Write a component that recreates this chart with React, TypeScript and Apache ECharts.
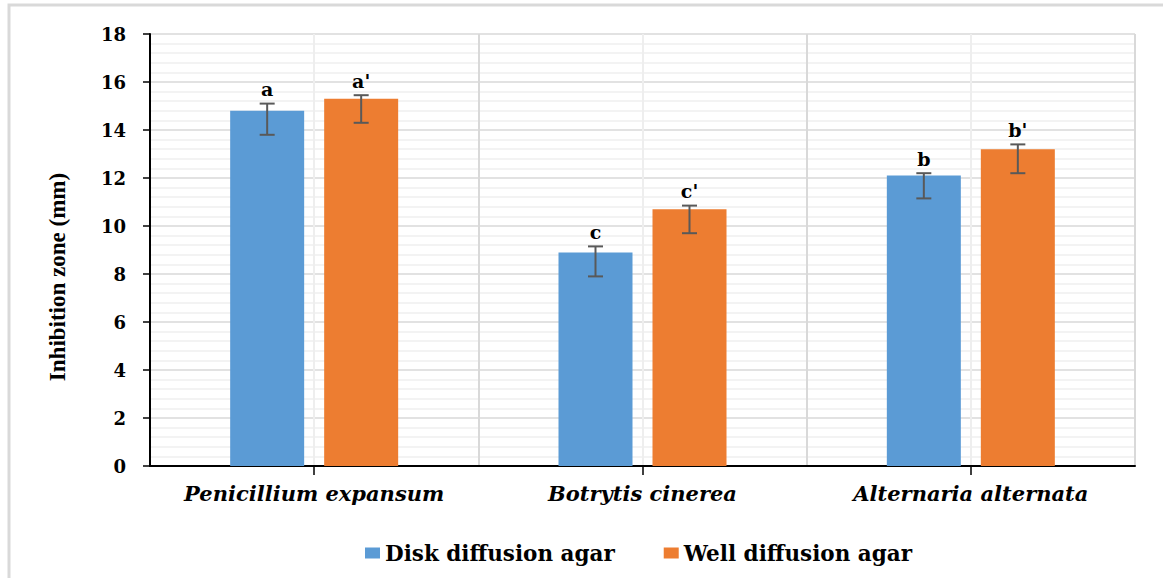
import { useEffect, useRef } from "react";
import * as echarts from "echarts";

const categories = ["Penicillium expansum", "Botrytis cinerea", "Alternaria alternata"];
const seriesNames = ["Disk diffusion agar", "Well diffusion agar"];
const diskValues = [14.8, 8.9, 12.1];
const wellValues = [15.3, 10.7, 13.2];
const diskErrHigh = [15.1, 9.15, 12.2];
const diskErrLow = [13.8, 7.9, 11.15];
const wellErrHigh = [15.45, 10.85, 13.4];
const wellErrLow = [14.3, 9.7, 12.2];
const diskLetters = ["a", "c", "b"];
const wellLetters = ["a'", "c'", "b'"];
const yMin = 0;
const yMax = 18;
const yInterval = 2;
const yTitle = "Inhibition zone (mm)";

const BLUE = "#5b9bd5";
const ORANGE = "#ed7d31";
const BAR_W = 74;
const BAR_GAP_PX = 20;
const SERIF_WIDE = '"DejaVu Serif", serif';

function makeErr(name: string, high: number[], low: number[], letters: string[], offset: number) {
  return {
    type: "custom",
    name,
    silent: true,
    z: 5,
    xAxisIndex: 1,
    data: categories.map((_, i) => [i, high[i], low[i]]),
    encode: { x: 0, y: [1, 2] },
    renderItem: (params: any, api: any) => {
      const i = api.value(0);
      const top = api.coord([i, api.value(1)]);
      const bot = api.coord([i, api.value(2)]);
      const x = top[0] + offset;
      const cap = 7.5;
      const style = { stroke: "#595959", lineWidth: 2 };
      return {
        type: "group",
        children: [
          { type: "line", shape: { x1: x, y1: top[1], x2: x, y2: bot[1] }, style },
          { type: "line", shape: { x1: x - cap, y1: top[1], x2: x + cap, y2: top[1] }, style },
          { type: "line", shape: { x1: x - cap, y1: bot[1], x2: x + cap, y2: bot[1] }, style },
          {
            type: "text",
            x,
            y: top[1] - 5,
            style: {
              text: letters[params.dataIndex],
              fill: "#000",
              font: `bold 19px ${SERIF_WIDE}`,
              textAlign: "center",
              textVerticalAlign: "bottom",
            },
          },
        ],
      };
    },
  };
}

export default function App() {
  const ref = useRef<HTMLDivElement>(null);
  useEffect(() => {
    if (!ref.current) return;
    const chart = echarts.init(ref.current, null, { renderer: "svg" });
    const half = (BAR_W + BAR_GAP_PX) / 2;
    chart.setOption({
      animation: false,
      backgroundColor: "#fff",
      grid: { left: 150, right: 28, top: 34, bottom: 112, containLabel: false },
      graphic: [
        {
          type: "rect",
          z: -10,
          silent: true,
          shape: { x: 9, y: 5, width: 1300, height: 700 },
          style: { fill: "none", stroke: "#d9d9d9", lineWidth: 3 },
        },
        {
          type: "text",
          x: 57,
          y: 277,
          rotation: Math.PI / 2,
          style: {
            text: yTitle,
            fill: "#000",
            font: 'bold 23px "Liberation Serif", serif',
            textAlign: "center",
            textVerticalAlign: "middle",
          },
        },
      ],
      legend: {
        data: seriesNames,
        left: 360,
        top: 537,
        icon: "rect",
        itemWidth: 15,
        itemHeight: 11,
        itemGap: 49,
        textStyle: { color: "#000", fontFamily: SERIF_WIDE, fontWeight: "bold", fontSize: 21.5 },
      },
      xAxis: [
        {
          // light half-category guide lines (category centres + boundaries)
          type: "value",
          position: "top",
          min: 0,
          max: categories.length * 2,
          interval: 1,
          show: true,
          axisLine: { show: false },
          axisTick: { show: false },
          axisLabel: { show: false },
          splitLine: { show: true, lineStyle: { color: "#eeeeee", width: 2 } },
        },
        {
          type: "category",
          position: "bottom",
          data: categories,
          axisLine: { show: true, onZero: false, lineStyle: { color: "#000", width: 2 } },
          axisTick: { show: true, alignWithLabel: true, length: 9, lineStyle: { color: "#000", width: 1.5 } },
          axisLabel: {
            color: "#000",
            fontFamily: SERIF_WIDE,
            fontStyle: "italic",
            fontWeight: "bold",
            fontSize: 21,
            margin: 17,
            interval: 0,
          },
          splitLine: { show: true, lineStyle: { color: "#d9d9d9", width: 2 } },
        },
      ],
      yAxis: {
        type: "value",
        min: yMin,
        max: yMax,
        interval: yInterval,
        axisLine: { show: true, lineStyle: { color: "#000", width: 2 } },
        axisTick: { show: true, length: 7, lineStyle: { color: "#000", width: 1.5 } },
        axisLabel: { color: "#000", fontFamily: SERIF_WIDE, fontWeight: "bold", fontSize: 18, margin: 24 },
        splitLine: { show: true, lineStyle: { color: "#d9d9d9", width: 1.5 } },
        minorTick: { show: false, splitNumber: 5 },
        minorSplitLine: { show: true, lineStyle: { color: "#efefef", width: 1.5 } },
      },
      series: [
        {
          type: "bar",
          name: seriesNames[0],
          xAxisIndex: 1,
          data: diskValues,
          barWidth: BAR_W,
          barGap: `${(BAR_GAP_PX / BAR_W) * 100}%`,
          itemStyle: { color: BLUE },
        },
        {
          type: "bar",
          name: seriesNames[1],
          xAxisIndex: 1,
          data: wellValues,
          barWidth: BAR_W,
          itemStyle: { color: ORANGE },
        },
        makeErr("disk-err", diskErrHigh, diskErrLow, diskLetters, -half),
        makeErr("well-err", wellErrHigh, wellErrLow, wellLetters, half),
      ],
    });
    return () => chart.dispose();
  }, []);
  return (
    <div
      ref={ref}
      style={{ position: "absolute", left: 0, top: 0, width: "1163px", height: "578px" }}
    />
  );
}
